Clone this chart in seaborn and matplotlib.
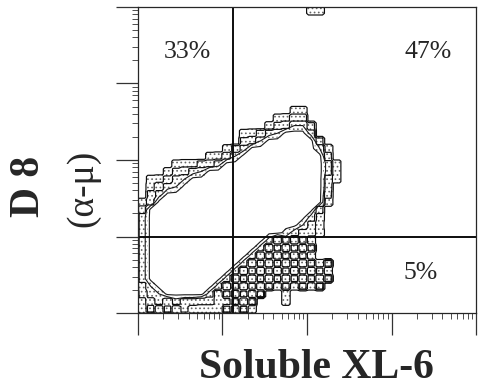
import numpy as np
import matplotlib
matplotlib.use("Agg")
import matplotlib.pyplot as plt
import seaborn as sns

# event density, one digit per 0.1-decade cell
# rows go from the top of the plot (10^4) down to 10^0, columns from 10^0 to the right
density_rows = [
    "0000000000000000000033000",
    "0000000000000000000000000",
    "0000000000000000000000000",
    "0000000000000000000000000",
    "0000000000000000000000000",
    "0000000000000000000000000",
    "0000000000000000000000000",
    "0000000000000000000000000",
    "0000000000000000000000000",
    "0000000000000000000000000",
    "0000000000000000000000000",
    "0000000000000000000000000",
    "0000000000000000000000000",
    "0000000000000000002200000",
    "0000000000000000235500000",
    "0000000000000002457740000",
    "0000000000002346799960000",
    "0000000000004579999994000",
    "0000000000246999999997300",
    "0000000023579999999999400",
    "0000233456999999999999620",
    "0002456799999999999999620",
    "0234679999999999999999520",
    "0356799999999999999999500",
    "0469999999999999999999400",
    "2599999999999999999999300",
    "5999999999999999999994000",
    "6999999999999999999963000",
    "6999999999999999999752000",
    "6999999999999999986543000",
    "6999999999999996262620000",
    "6999999999999962626260000",
    "6999999999999626262620000",
    "6999999999996262626262600",
    "6999999999962626262626200",
    "6999999999626262626262600",
    "5799999996262626262626000",
    "4679999962626260020000000",
    "3564655443362600020000000",
    "2626242222626200000000000",
]

x_gate = 13.3
y_gate = 10.0
quadrant_labels = ["33%", "47%", "5%"]
quadrant_x = [0.146, 0.858, 0.837]
quadrant_y = [0.833, 0.833, 0.111]

outer_levels = [1, 3.5, 5.5]   # blocky outer contours
inner_levels = [7, 8.5]        # smoother inner contours
cell = 0.1   # decades per cell
k = 3

grid = np.array([[int(c) for c in row] for row in density_rows[::-1]], dtype=float)
grid = np.pad(grid, 1)
fine = np.kron(grid, np.ones((k, k)))

xf = -cell + (np.arange(fine.shape[1]) + 0.5) * cell / k
yf = -cell + (np.arange(fine.shape[0]) + 0.5) * cell / k
Xf, Yf = np.meshgrid(10 ** xf, 10 ** yf)
xr = -cell + (np.arange(grid.shape[1]) + 0.5) * cell
yr = -cell + (np.arange(grid.shape[0]) + 0.5) * cell
Xr, Yr = np.meshgrid(10 ** xr, 10 ** yr)

sns.set_theme(style="white")
plt.rcParams["font.family"] = ["Liberation Serif", "DejaVu Serif"]
plt.rcParams["hatch.linewidth"] = 0.7

fig = plt.figure(figsize=(4.79, 3.86), dpi=100)
ax = fig.add_axes([0.288, 0.189, 0.706, 0.793])

cf = ax.contourf(Xf, Yf, fine, levels=[outer_levels[0], inner_levels[-1]],
                 colors="none", hatches=["...."])
cf.set_edgecolor("0.4")
cf.set_linewidth(0)
ax.contour(Xf, Yf, fine, levels=outer_levels, colors="0.05", linewidths=0.85)
ax.contour(Xr, Yr, grid, levels=inner_levels, colors="0.1", linewidths=0.8)

ax.axvline(x_gate, color="0.05", lw=1.4)
ax.axhline(y_gate, color="0.05", lw=1.4)

ax.set_xscale("log")
ax.set_yscale("log")
ax.set_xlim(1, 1e4)
ax.set_ylim(1, 1e4)

for s in ax.spines.values():
    s.set_color("0.15")
    s.set_linewidth(0.9)

ax.tick_params(which="major", direction="out", length=16, width=0.9, color="0.2",
               bottom=True, left=True, labelbottom=False, labelleft=False)
ax.tick_params(which="minor", direction="out", length=4, width=0.7, color="0.3",
               bottom=True, left=True)

for lab, qx, qy in zip(quadrant_labels, quadrant_x, quadrant_y):
    ax.text(qx, qy, lab, transform=ax.transAxes, ha="center", va="baseline",
            fontsize=18.5, color="0.15")

fig.text(0.660, 0.022, "Soluble XL-6", ha="center", va="baseline",
         fontsize=30, fontweight="bold", color="0.15")
fig.text(0.060, 0.518, "D 8", rotation=90, ha="center", va="center",
         fontsize=30, fontweight="bold", color="0.15")
fig.text(0.173, 0.513, "(α-μ)", rotation=90, ha="center", va="center",
         fontsize=27, color="0.15")

fig.savefig("out.png", dpi=100, facecolor="white")
